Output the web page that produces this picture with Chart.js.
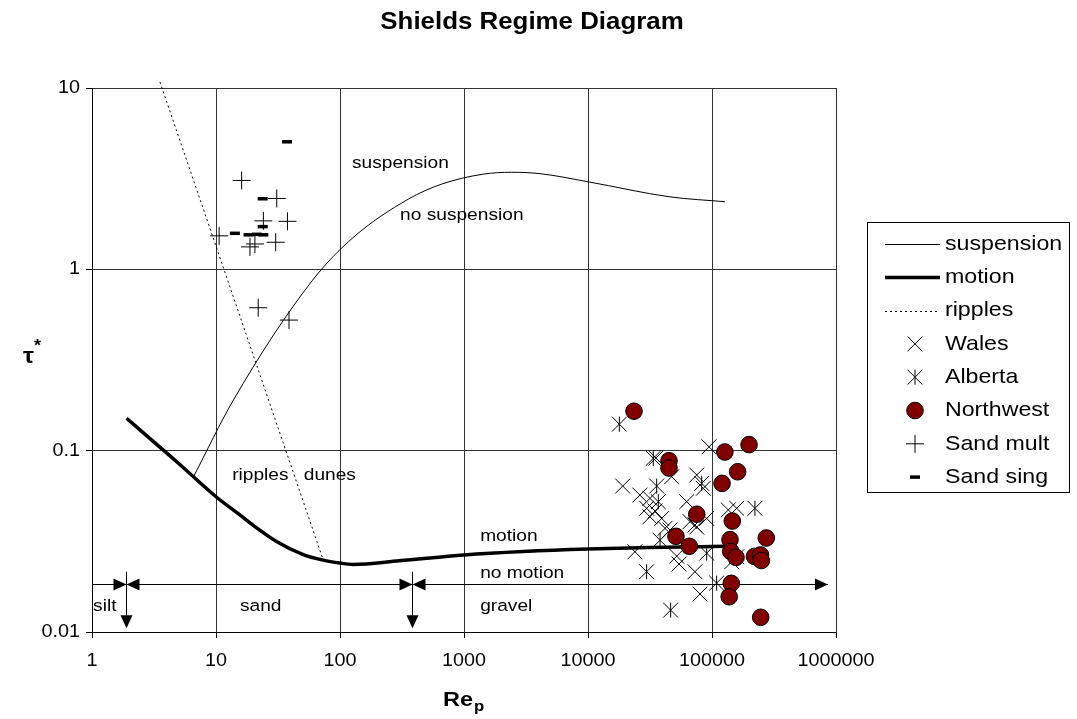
<!DOCTYPE html>
<html>
<head>
<meta charset="utf-8">
<script src="https://cdn.jsdelivr.net/npm/chart.js@4.4.0/dist/chart.umd.min.js"></script>
<style>
  html, body { margin: 0; padding: 0; background: #fff; }
  canvas { display: block; }
</style>
</head>
<body>
<canvas id="chart" width="1077" height="719"></canvas>
<script>
// Shields regime diagram: tau* against Re_p, both axes log

const xTicks = [1, 10, 100, 1000, 10000, 100000, 1000000];
const yTicks = [0.01, 0.1, 1, 10];

// threshold curves
const suspensionX = [6.6, 13.8, 60, 128, 356, 660, 1430, 2430, 4100, 10000, 45800, 127000];
const suspensionY = [0.072, 0.19, 0.87, 1.5, 2.44, 2.95, 3.35, 3.43, 3.37, 3.04, 2.51, 2.36];

const motionX = [1.9, 3, 5, 10, 15.6, 20, 31, 50, 73, 100, 127, 300, 1000, 3000, 10000, 30000, 127000];
const motionY = [0.151, 0.115, 0.085, 0.0557, 0.0442, 0.0387, 0.0315, 0.0268, 0.0249, 0.024, 0.0236, 0.0247, 0.0266, 0.0278, 0.0287, 0.0292, 0.0297];

const ripplesX = [3.53, 72];
const ripplesY = [10.8, 0.0258];

// field data
const walesX = [19050, 35300, 94600, 47300, 75300, 85100, 31600, 29700, 62500, 34700, 39300, 31600, 41800, 66500,
  72900, 90600, 135300, 158200, 45800, 23900, 51900, 54200, 72900, 80000, 144200, 75300, 26200, 158200];
const walesY = [0.0638, 0.0911, 0.105, 0.0718, 0.0734, 0.062, 0.0546, 0.0481, 0.0523, 0.0465, 0.0423, 0.0432, 0.0373, 0.0406,
  0.0389, 0.0423, 0.0471, 0.0481, 0.0365, 0.0277, 0.0262, 0.0237, 0.0215, 0.0162, 0.0244, 0.0379, 0.0569, 0.026];

const albertaX = [17900, 33600, 35800, 82600, 36900, 222000, 38100, 90600, 29700, 109000, 46400];
const albertaY = [0.140, 0.0907, 0.0638, 0.066, 0.0523, 0.0481, 0.0321, 0.0272, 0.0215, 0.0186, 0.0132];

const northwestX = [23500, 127000, 199000, 45000, 45000, 161000, 120500, 75300, 145800, 51200, 274000, 139700, 65600,
  141600, 156200, 220000, 246000, 250000, 143100, 137600, 247000];
const northwestY = [0.165, 0.0983, 0.108, 0.088, 0.0802, 0.0765, 0.066, 0.0446, 0.0409, 0.0337, 0.033, 0.0323, 0.0297,
  0.0278, 0.0258, 0.0261, 0.0266, 0.0248, 0.01855, 0.01565, 0.01205];

const sandMultX = [10.6, 16.1, 30.9, 24.1, 37.7, 18.8, 20.6, 30.3, 21.9, 38.8];
const sandMultY = [1.53, 3.09, 2.46, 1.85, 1.84, 1.33, 1.38, 1.41, 0.614, 0.525];

const sandSingX = [37.4, 23.8, 23.8, 14.2, 18.3, 21.3, 24.1];
const sandSingY = [5.05, 2.45, 1.72, 1.58, 1.55, 1.56, 1.55];

// region names written on the plot (data coordinates of the text's left/middle)
const regionText = ['suspension', 'no suspension', 'ripples', 'dunes', 'motion', 'no motion', 'silt', 'sand', 'gravel'];
const regionX = [125, 305, 13.5, 51, 1350, 1350, 1.02, 15.6, 1350];
const regionY = [3.86, 1.99, 0.0734, 0.0734, 0.0338, 0.0211, 0.0139, 0.0139, 0.0139];

// grain size classes bar
const classLevel = 0.0184;
const classBounds = [1.88, 379];
const classEnd = 861000;
const classTickTop = 0.0215;
const classTickBottom = 0.0105;

const FONT = '"Liberation Sans", Arial, sans-serif';
const STRETCH = 1.12; // the original text is drawn a bit wide

function pts(xs, ys) {
  return xs.map((v, i) => ({ x: v, y: ys[i] }));
}

const datasets = [
  { label: 'suspension', data: pts(suspensionX, suspensionY), showLine: true, borderColor: '#000', borderWidth: 1,
    pointRadius: 0, cubicInterpolationMode: 'monotone', order: 8, legendLine: true },
  { label: 'motion', data: pts(motionX, motionY), showLine: true, borderColor: '#000', borderWidth: 3.5,
    pointRadius: 0, cubicInterpolationMode: 'monotone', order: 7, legendLine: true },
  { label: 'ripples', data: pts(ripplesX, ripplesY), showLine: true, borderColor: '#000', borderWidth: 1,
    borderDash: [2, 3], pointRadius: 0, order: 6, clip: false, legendLine: true },
  { label: 'Wales', data: pts(walesX, walesY), pointStyle: 'crossRot', pointRadius: 10.5,
    borderColor: '#000', backgroundColor: '#000', borderWidth: 1, order: 5 },
  // asterisk: an X plus a vertical stroke added in the plugin below
  { label: 'Alberta', data: pts(albertaX, albertaY), pointStyle: 'crossRot', pointRadius: 10.5,
    borderColor: '#000', backgroundColor: '#000', borderWidth: 1, order: 4, spoke: 7.5 },
  { label: 'Northwest', data: pts(northwestX, northwestY), pointStyle: 'circle', pointRadius: 8.3,
    borderColor: '#000', backgroundColor: '#800000', borderWidth: 1, order: 3 },
  { label: 'Sand mult', data: pts(sandMultX, sandMultY), pointStyle: 'cross', pointRadius: 9,
    borderColor: '#000', backgroundColor: '#000', borderWidth: 1, order: 2 },
  { label: 'Sand sing', data: pts(sandSingX, sandSingY), pointStyle: 'line', pointRadius: 5,
    borderColor: '#000', backgroundColor: '#000', borderWidth: 3.5, order: 1 }
];

function wideText(ctx, str, x, y, font, align) {
  ctx.save();
  ctx.font = font;
  ctx.textBaseline = 'middle';
  ctx.textAlign = 'left';
  const w = ctx.measureText(str).width * STRETCH;
  let left = x;
  if (align === 'center') left = x - w / 2;
  if (align === 'right') left = x - w;
  ctx.translate(left, y);
  ctx.scale(STRETCH, 1);
  ctx.fillText(str, 0, 0);
  ctx.restore();
  return w;
}

function arrowHead(ctx, tx, ty, dir) {
  const L = 13, H = 6;
  ctx.beginPath();
  ctx.moveTo(tx, ty);
  if (dir === 'right') { ctx.lineTo(tx - L, ty - H); ctx.lineTo(tx - L, ty + H); }
  if (dir === 'left') { ctx.lineTo(tx + L, ty - H); ctx.lineTo(tx + L, ty + H); }
  if (dir === 'down') { ctx.lineTo(tx - H, ty - L); ctx.lineTo(tx + H, ty - L); }
  ctx.closePath();
  ctx.fill();
}

function spoke(ctx, px, py, half) {
  ctx.beginPath();
  ctx.moveTo(px, py - half);
  ctx.lineTo(px, py + half);
  ctx.stroke();
}

const decor = {
  id: 'decor',
  beforeDatasetsDraw(chart) {
    const { ctx, scales: { x, y } } = chart;
    ctx.save();
    ctx.strokeStyle = '#000';
    ctx.fillStyle = '#000';
    ctx.lineWidth = 1;

    // silt / sand / gravel bar
    const by = Math.round(y.getPixelForValue(classLevel)) + 0.5;
    const x0 = x.getPixelForValue(xTicks[0]);
    const x1 = x.getPixelForValue(classEnd);
    ctx.beginPath(); ctx.moveTo(x0, by); ctx.lineTo(x1, by); ctx.stroke();
    arrowHead(ctx, x1, by, 'right');
    classBounds.forEach(b => {
      const px = Math.round(x.getPixelForValue(b)) + 0.5;
      const top = y.getPixelForValue(classTickTop);
      const bot = y.getPixelForValue(classTickBottom);
      ctx.beginPath(); ctx.moveTo(px, top); ctx.lineTo(px, bot - 4); ctx.stroke();
      arrowHead(ctx, px, bot, 'down');
      arrowHead(ctx, px, by, 'right');
      arrowHead(ctx, px, by, 'left');
    });

    regionText.forEach((t, i) => {
      wideText(ctx, t, x.getPixelForValue(regionX[i]), y.getPixelForValue(regionY[i]), '17.1px ' + FONT, 'left');
    });
    ctx.restore();
  },
  afterDatasetDraw(chart, args) {
    const ds = chart.data.datasets[args.index];
    if (!ds.spoke) return;
    const ctx = chart.ctx;
    ctx.save();
    ctx.strokeStyle = ds.borderColor;
    ctx.lineWidth = ds.borderWidth;
    args.meta.data.forEach(el => spoke(ctx, el.x, el.y, ds.spoke));
    ctx.restore();
  },
  afterDraw(chart) {
    const { ctx, scales: { x, y }, chartArea: ca } = chart;
    ctx.save();
    ctx.fillStyle = '#000';

    // tick labels
    const tickFont = '17.7px ' + FONT;
    xTicks.forEach(v => wideText(ctx, String(v), x.getPixelForValue(v), ca.bottom + 29, tickFont, 'center'));
    yTicks.forEach(v => wideText(ctx, String(v), ca.left - 12, y.getPixelForValue(v), tickFont, 'right'));

    // title
    wideText(ctx, 'Shields Regime Diagram', 532, 23, 'bold 23.1px ' + FONT, 'center');

    // axis titles
    const wRe = wideText(ctx, 'Re', 443, 700, 'bold 21px ' + FONT, 'left');
    wideText(ctx, 'p', 443 + wRe + 1, 707, 'bold 15px ' + FONT, 'left');
    const wTau = wideText(ctx, 'τ', 23, 357, 'bold 22px ' + FONT, 'left');
    wideText(ctx, '*', 23 + wTau, 347, 'bold 16px ' + FONT, 'left');

    // legend
    const lx = 867, ly = 222, lw = 202, lh = 270;
    ctx.strokeStyle = '#000';
    ctx.lineWidth = 1;
    ctx.strokeRect(lx + 0.5, ly + 0.5, lw, lh);
    const rowH = 33.3;
    chart.data.datasets.forEach((ds, i) => {
      const cy = ly + 22 + i * rowH;
      ctx.save();
      ctx.strokeStyle = ds.borderColor;
      ctx.fillStyle = ds.backgroundColor || '#000';
      ctx.lineWidth = ds.borderWidth;
      if (ds.legendLine) {
        ctx.setLineDash(ds.borderDash || []);
        ctx.beginPath();
        ctx.moveTo(lx + 18, Math.round(cy) + 0.5);
        ctx.lineTo(lx + 73, Math.round(cy) + 0.5);
        ctx.stroke();
      } else {
        Chart.helpers.drawPoint(ctx, {
          pointStyle: ds.pointStyle, radius: ds.pointRadius, rotation: 0, borderWidth: ds.borderWidth
        }, lx + 48, cy);
        if (ds.spoke) spoke(ctx, lx + 48, cy, ds.spoke);
      }
      ctx.restore();
      ctx.fillStyle = '#000';
      wideText(ctx, ds.label, lx + 78, cy, '20.7px ' + FONT, 'left');
    });
    ctx.restore();
  }
};

const gridStyle = { color: '#333', lineWidth: 1, drawTicks: true, tickLength: 6, tickColor: '#000' };

new Chart(document.getElementById('chart'), {
  type: 'scatter',
  data: { datasets },
  options: {
    responsive: false,
    animation: false,
    events: [],
    layout: { padding: { top: 88, right: 241, bottom: 0, left: 0 } },
    plugins: { legend: { display: false }, tooltip: { enabled: false }, title: { display: false } },
    scales: {
      x: {
        type: 'logarithmic', min: 1, max: 1000000,
        afterBuildTicks: s => { s.ticks = xTicks.map(v => ({ value: v })); },
        afterFit: s => { s.height = 87; },
        ticks: { display: false },
        grid: gridStyle,
        border: { color: '#000', width: 1 }
      },
      y: {
        type: 'logarithmic', min: 0.01, max: 10,
        afterBuildTicks: s => { s.ticks = yTicks.map(v => ({ value: v })); },
        afterFit: s => { s.width = 92; },
        ticks: { display: false },
        grid: gridStyle,
        border: { color: '#000', width: 1 }
      }
    }
  },
  plugins: [decor]
});
</script>
</body>
</html>
